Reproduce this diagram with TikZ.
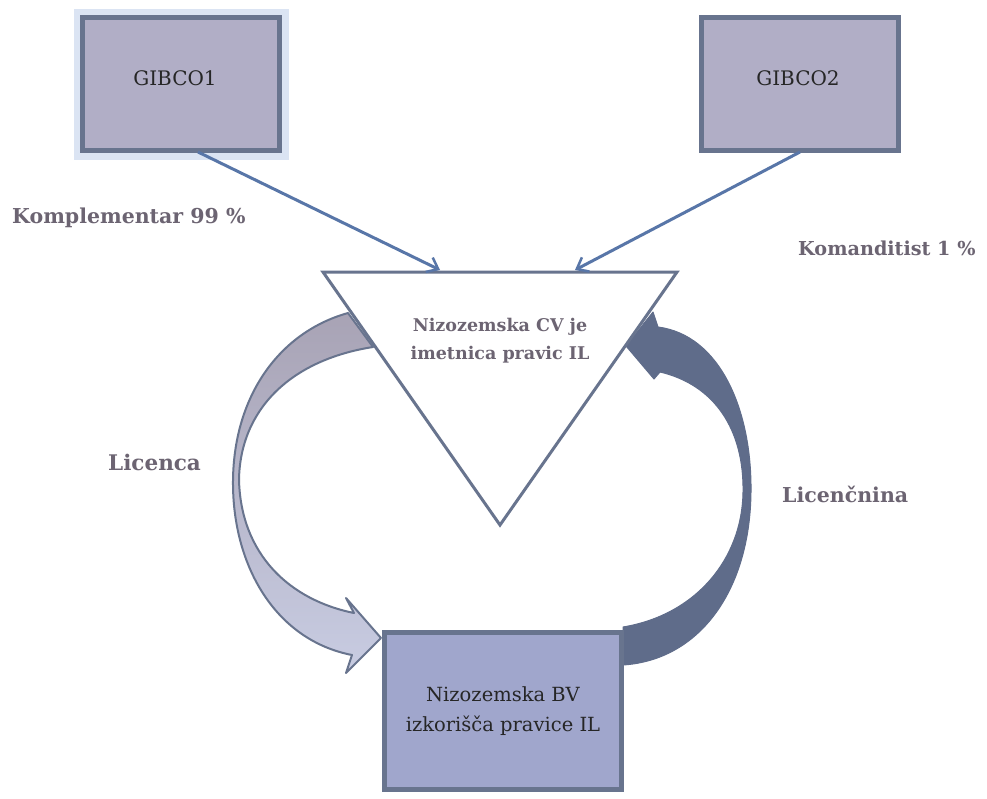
\documentclass[tikz,border=0pt]{standalone}
\usepackage{fontspec}
\setmainfont{DejaVu Serif}
\usetikzlibrary{arrows.meta}
\definecolor{gibfill}{RGB}{177,174,198}
\definecolor{bord}{RGB}{104,116,142}
\definecolor{bvfill}{RGB}{160,166,204}
\definecolor{conn}{RGB}{88,118,168}
\definecolor{lblgray}{RGB}{108,100,114}
\definecolor{glow}{RGB}{196,210,236}
\definecolor{licTop}{RGB}{168,163,181}
\definecolor{licBot}{RGB}{200,204,226}
\definecolor{licfee}{RGB}{95,108,138}
\tikzset{
  company/.style={draw=bord, line width=5pt, fill=gibfill, minimum width=197pt, minimum height=133pt, inner sep=0pt},
  boxtext/.style={font=\fontsize{20}{24}\selectfont, text=black!85},
  lbl/.style={font=\bfseries\fontsize{20.5}{24}\selectfont, text=lblgray, inner sep=0pt},
  conn/.style={draw=conn, line width=3pt, -{Straight Barb[length=10pt,width=16pt,line width=2.5pt]}},
  trianglebox/.style={draw=bord, line width=3pt, fill=white, line join=miter},
}
\begin{document}
\begin{tikzpicture}[x=1pt,y=-1pt]
\useasboundingbox (0,0) rectangle (987,798);
\fill[white] (0,0) rectangle (987,798);
% curved arrows
\path[draw=bord, line width=2pt, top color=licTop, bottom color=licBot, line join=round]
  (348,313) .. controls (280,332) and (234,395) .. (233,480)
  .. controls (232,565) and (275,640) .. (352,655)
  -- (346,673) -- (381,638) -- (346,598) -- (354,613)
  .. controls (290,600) and (241,555) .. (239,480)
  .. controls (240,410) and (290,360) .. (373,347) -- cycle;
\path[draw=licfee, fill=licfee, line width=1pt, line join=round]
  (623,627) .. controls (695,615) and (742,560) .. (743,492)
  .. controls (744,430) and (715,385) .. (660,372)
  -- (654,379) -- (626,346) -- (653,312) -- (658,327)
  .. controls (720,335) and (752,410) .. (751,492)
  .. controls (750,590) and (700,660) .. (623,665) -- cycle;
% triangle
\coordinate (tl) at (323,272);
\coordinate (tr) at (677,272);
\coordinate (ap) at (500,525);
\draw[trianglebox] (tl) -- (tr) -- (ap) -- cycle;
\node[font=\bfseries\fontsize{17.5}{28}\selectfont, text=lblgray, align=center] (cv) at (500,341) {Nizozemska CV je\\imetnica pravic IL};
% top boxes
\draw[glow, line width=7pt, opacity=0.6] (77,12) rectangle (285,156);
\node[company] (g1) at (181,84) {};
\node[company] (g2) at (800,84) {};
\node[boxtext, anchor=base] (g1t) at (175,85) {GIBCO1};
\node[boxtext, anchor=base] (g2t) at (798,85) {GIBCO2};
% bottom box
\node[draw=bord, line width=5pt, fill=bvfill, minimum width=237pt, minimum height=157pt, align=center, font=\fontsize{19.5}{30}\selectfont, text=black!85] (bv) at (503,711) {Nizozemska BV\\izkorišča pravice IL};
% connectors
\coordinate (c1s) at (198,152);
\coordinate (c1e) at (440,270);
\coordinate (c2s) at (800,152);
\coordinate (c2e) at (575,270);
\draw[conn] (c1s) -- (c1e);
\draw[conn] (c2s) -- (c2e);
% labels
\node[lbl, anchor=base west] (komp) at (12,223) {Komplementar 99 \%};
\node[lbl, anchor=base west, font=\bfseries\fontsize{19.2}{24}\selectfont] (koma) at (798,255) {Komanditist 1 \%};
\node[lbl, anchor=base west, font=\bfseries\fontsize{21.5}{24}\selectfont] (lic) at (108,470) {Licenca};
\node[lbl, anchor=base west] (licn) at (782,502) {Licenčnina};
\end{tikzpicture}
\end{document}
